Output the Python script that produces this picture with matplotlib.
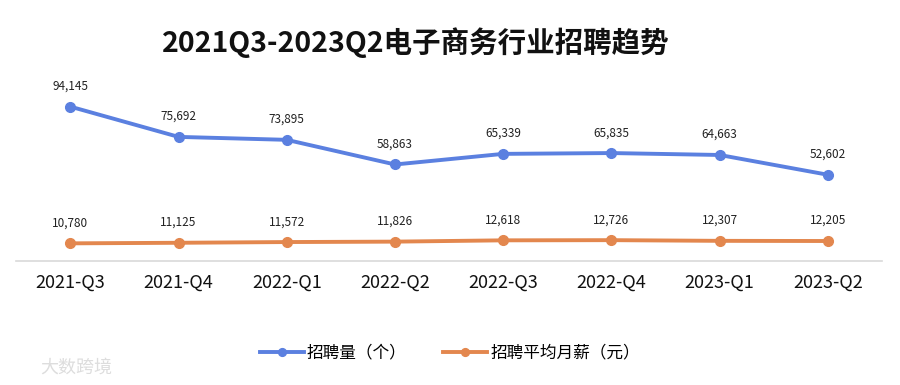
import matplotlib.pyplot as plt
import numpy as np

plt.rcParams['font.family'] = ['Noto Sans CJK SC', 'DejaVu Sans']

quarters = ["2021-Q3", "2021-Q4", "2022-Q1", "2022-Q2", "2022-Q3", "2022-Q4", "2023-Q1", "2023-Q2"]
jobs = [94145, 75692, 73895, 58863, 65339, 65835, 64663, 52602]
salary = [10780, 11125, 11572, 11826, 12618, 12726, 12307, 12205]

BLUE = "#5b80e0"
ORANGE = "#e3874e"

fig = plt.figure(figsize=(9, 3.85), dpi=100)
ax = fig.add_axes([0.018, 0.322, 0.962, 0.426])
x = np.arange(len(quarters))

ax.plot(x, jobs, '-o', color=BLUE, lw=2.8, ms=7, label="招聘量（个）")
ax.plot(x, salary, '-o', color=ORANGE, lw=2.8, ms=7, label="招聘平均月薪（元）")

for xi, v in zip(x, jobs):
    ax.annotate(f"{v:,}", (xi, v), xytext=(0, 10), textcoords="offset points",
                ha="center", va="bottom", fontsize=8.5, color="#222222")
for xi, v in zip(x, salary):
    ax.annotate(f"{v:,}", (xi, v), xytext=(0, 10), textcoords="offset points",
                ha="center", va="bottom", fontsize=8.5, color="#222222")

ax.set_xlim(-0.5, 7.5)
ax.set_ylim(0, 100000)
ax.set_xticks(x)
ax.set_xticklabels(quarters, fontsize=13, color="#111111")
ax.set_yticks([])
for side in ["top", "right", "left"]:
    ax.spines[side].set_visible(False)
ax.spines["bottom"].set_color("#d9d9d9")
ax.spines["bottom"].set_linewidth(1.2)
ax.tick_params(axis="x", length=0, pad=9)

fig.text(0.462, 0.89, "2021Q3-2023Q2电子商务行业招聘趋势", ha="center", va="center",
         fontsize=20.5, fontweight="bold", color="#111111")

fig.legend(loc="center", bbox_to_anchor=(0.5, 0.083), ncol=2, frameon=False,
           fontsize=12, handlelength=2.6, columnspacing=2.2, handletextpad=0.2,
           markerscale=0.8)

fig.text(0.045, 0.045, "大数跨境", fontsize=13, color="#dddddd", ha="left", va="center")

fig.savefig("out.png", dpi=100)
